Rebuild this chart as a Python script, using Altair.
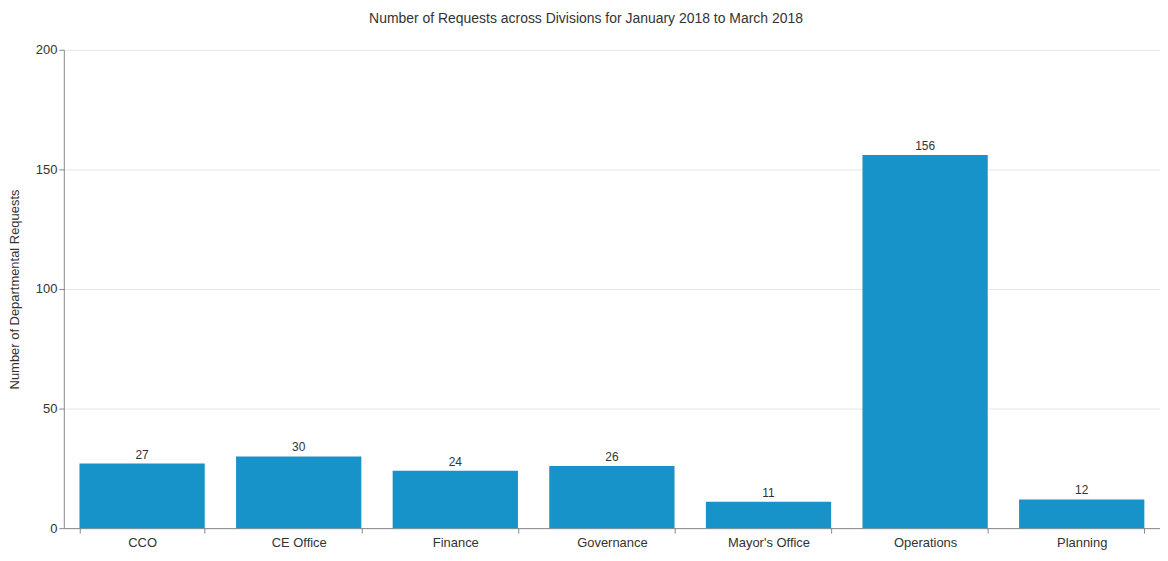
import altair as alt
import pandas as pd

divisions = ["CCO", "CE Office", "Finance", "Governance", "Mayor's Office", "Operations", "Planning"]
requests = [27, 30, 24, 26, 11, 156, 12]

df = pd.DataFrame({"Division": divisions, "Requests": requests})

base = alt.Chart(df).encode(
    x=alt.X("Division:N", sort=divisions, title=None,
            scale=alt.Scale(paddingInner=0.2, paddingOuter=0.1),
            axis=alt.Axis(labelAngle=0, tickBand="extent", labelFontSize=13,
                          labelPadding=3, tickSize=5, domainColor="#888",
                          tickColor="#888", labelColor="#333", grid=False,
                          labelFont="Liberation Sans")),
    y=alt.Y("Requests:Q", title="Number of Departmental Requests",
            scale=alt.Scale(domain=[0, 200]),
            axis=alt.Axis(values=[0, 50, 100, 150, 200], tickSize=5,
                          domainColor="#888", tickColor="#888", labelColor="#333",
                          labelFontSize=13, titleFontSize=13, titleFontWeight="normal",
                          titleColor="#333", titlePadding=14, gridColor="#e6e6e6",
                          labelFont="Liberation Sans", titleFont="Liberation Sans")),
)

bars = base.mark_bar(color="#1793c9")
labels = base.mark_text(dy=-9, fontSize=12, color="#333", font="Liberation Sans").encode(
    text="Requests:Q")

chart = (bars + labels).properties(
    width=1100, height=480,
    title=alt.TitleParams("Number of Requests across Divisions for January 2018 to March 2018",
                          fontSize=14, fontWeight="normal", color="#333",
                          font="Liberation Sans", offset=18, dx=-26),
    autosize=alt.AutoSizeParams(type="none"),
    padding={"left": 56, "top": 41, "right": 0, "bottom": 24},
).configure_view(stroke=None)

chart.save("out.html", embed_options={"renderer": "svg", "actions": False})
